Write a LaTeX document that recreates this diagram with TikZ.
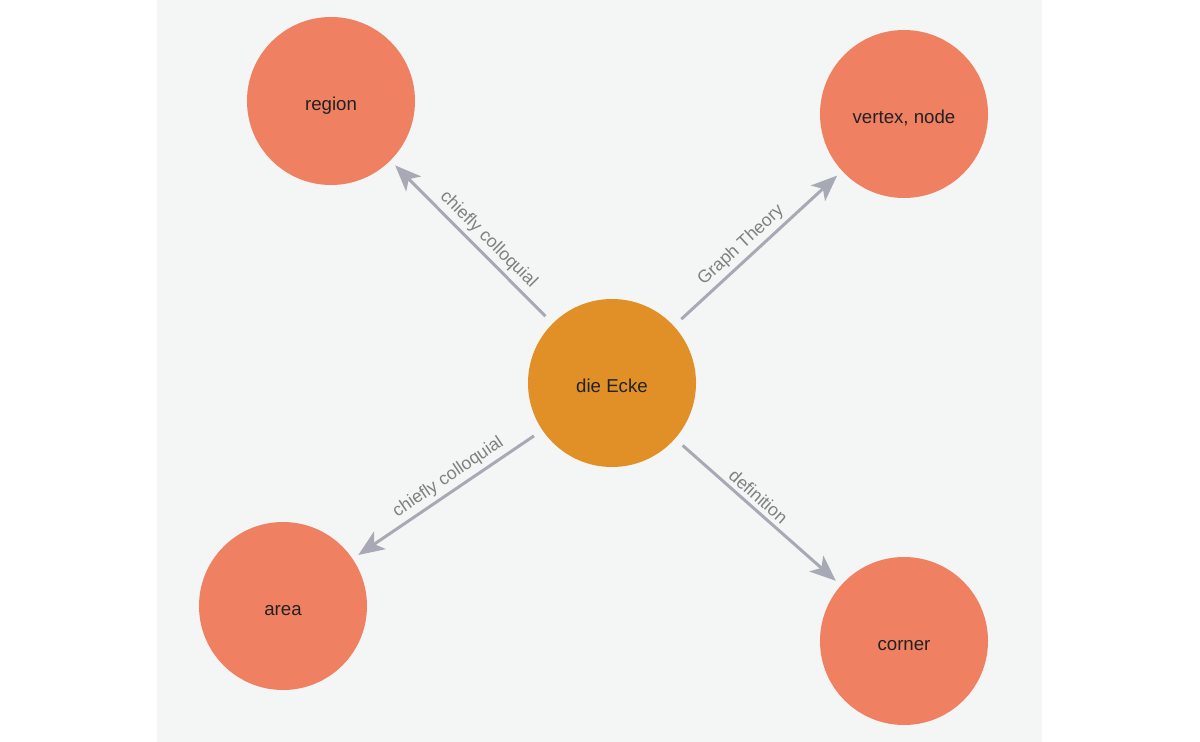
\documentclass[tikz,border=0pt]{standalone}
\usepackage{fontspec}
\setmainfont{Liberation Sans}
\usetikzlibrary{arrows.meta}
\definecolor{bggray}{HTML}{F4F5F5}
\definecolor{hubcol}{HTML}{E09026}
\definecolor{leafcol}{HTML}{F08062}
\definecolor{edgecol}{HTML}{A7AAB4}
\definecolor{lblcol}{HTML}{808080}
\definecolor{txtcol}{HTML}{222222}
\tikzset{
  base/.style={circle, minimum size=126pt, inner sep=0pt, text=txtcol,
    text height=14pt, text depth=0pt, font=\fontsize{14}{16}\selectfont},
  hub/.style={base, fill=hubcol},
  leaf/.style={base, fill=leafcol},
  edge/.style={draw=edgecol, line width=2.25pt, shorten <=7.5pt, shorten >=5pt,
    -{Stealth[length=19.5pt, width=15.75pt, inset=5pt]}},
  lbl/.style={pos=0.455, sloped, above, inner sep=3pt, text=lblcol, font=\fontsize{13.3}{15}\selectfont}
}
\begin{document}
\begin{tikzpicture}[x=0.75pt, y=-0.75pt]
\useasboundingbox (0,0) rectangle (1200,742);
\fill[white] (0,0) rectangle (1200,742);
\fill[bggray] (157,0) rectangle (1042,742);
\node[hub] (c) at (612,383) {die Ecke};
\node[leaf] (r) at (331,101) {region};
\node[leaf] (v) at (904,114) {vertex, node};
\node[leaf] (a) at (283,606) {area};
\node[leaf] (k) at (904,641) {corner};
\draw[edge] (c) -- node[lbl] {chiefly colloquial} (r);
\draw[edge] (c) -- node[lbl] {Graph Theory} (v);
\draw[edge] (c) -- node[lbl] {chiefly colloquial} (a);
\draw[edge] (c) -- node[lbl] {definition} (k);
\end{tikzpicture}
\end{document}
